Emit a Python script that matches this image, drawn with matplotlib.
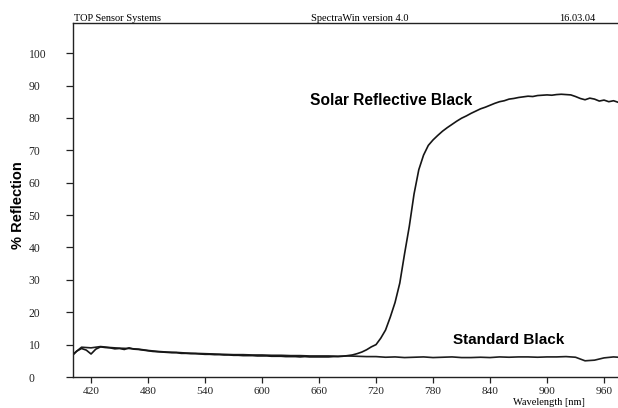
import numpy as np
import matplotlib
matplotlib.use("Agg")
import matplotlib.pyplot as plt

# wavelength grids [nm]
wl_std = list(range(400, 981, 10))
wl_solar = list(range(400, 981, 5))

# % reflection
standard_black = [6.8, 9.2, 9.0, 9.4, 9.1, 8.9, 8.8, 8.6, 8.2, 7.9,
                  7.7, 7.6, 7.4, 7.3, 7.2, 7.1, 7.0, 6.9, 6.9, 6.8,
                  6.8, 6.7, 6.7, 6.6, 6.6, 6.5, 6.5, 6.5, 6.4, 6.5,
                  6.4, 6.3, 6.3, 6.1, 6.2, 6.0, 6.1, 6.2, 6.0, 6.1,
                  6.2, 6.0, 6.0, 6.1, 6.0, 6.2, 6.1, 6.2, 6.2, 6.1,
                  6.2, 6.2, 6.3, 6.1, 5.0, 5.2, 5.9, 6.2, 6.0]

solar_black = [6.5, 8.0, 8.8, 8.3, 7.1, 8.6, 9.3, 9.1, 9.0, 8.7,
               8.8, 8.5, 9.0, 8.6, 8.5, 8.3, 8.1, 7.9, 7.8, 7.7,
               7.6, 7.5, 7.5, 7.3, 7.3, 7.2, 7.2, 7.1, 7.0, 7.0,
               6.9, 6.9, 6.8, 6.8, 6.7, 6.7, 6.6, 6.6, 6.6, 6.5,
               6.5, 6.5, 6.4, 6.4, 6.4, 6.3, 6.3, 6.3, 6.2, 6.3,
               6.2, 6.2, 6.2, 6.2, 6.2, 6.3, 6.3, 6.4, 6.6, 6.8,
               7.2, 7.7, 8.4, 9.3, 10.0, 12.0, 14.5, 18.5, 23.0, 29.0,
               38.0, 46.5, 56.5, 64.0, 68.5, 71.5, 73.2, 74.6, 75.9, 77.0,
               78.0, 79.0, 79.9, 80.6, 81.4, 82.1, 82.8, 83.3, 83.9, 84.5,
               85.0, 85.3, 85.8, 86.0, 86.3, 86.5, 86.7, 86.6, 86.9, 87.0,
               87.1, 87.0, 87.2, 87.3, 87.2, 87.1, 86.6, 86.0, 85.6, 86.1,
               85.8, 85.2, 85.5, 85.0, 85.3, 84.8, 84.6]

xticks = [420, 480, 540, 600, 660, 720, 780, 840, 900, 960]
yticks = [0, 10, 20, 30, 40, 50, 60, 70, 80, 90, 100]

serif = "Liberation Serif"
sans = "Liberation Sans"

fig = plt.figure(figsize=(6.18, 4.08), dpi=100)
ax = fig.add_axes([73 / 618, 31 / 408, 1 - 73 / 618 + 0.002, 354 / 408])

ax.plot(wl_std, standard_black, color="#1e1e1e", lw=1.2)
ax.plot(wl_solar, solar_black, color="#161616", lw=1.2)

ax.set_xlim(401, 976)
ax.set_ylim(0, 109.3)
ax.set_xticks(xticks)
ax.set_yticks(yticks)
ax.spines["right"].set_visible(False)
for s in ["left", "bottom", "top"]:
    ax.spines[s].set_linewidth(1.0)
    ax.spines[s].set_color("#222222")

ax.tick_params(axis="x", direction="out", length=4, width=0.9, pad=3,
               labelsize=8.2, colors="#222222")
ax.tick_params(axis="y", direction="out", length=5, width=0.9, pad=27,
               labelsize=8.4, colors="#222222")
for lab in ax.get_xticklabels() + ax.get_yticklabels():
    lab.set_family(serif)
for lab in ax.get_yticklabels():
    lab.set_horizontalalignment("left")

ax.set_ylabel("% Reflection", family=sans, fontweight="bold", fontsize=10.5)
ax.yaxis.set_label_coords(-0.088, 0.486)

ax.text(736, 85.5, "Solar Reflective Black", family=sans, fontweight="bold",
        fontsize=11.2, ha="center", va="center")
ax.text(860, 11.4, "Standard Black", family=sans, fontweight="bold",
        fontsize=11, ha="center", va="center")

# scan header and axis caption
fig.text(74 / 618, 1 - 21 / 408, "TOP Sensor Systems", family=serif,
         fontsize=7.5, ha="left", va="baseline")
fig.text(311 / 618, 1 - 21 / 408, "SpectraWin version 4.0", family=serif,
         fontsize=7.5, ha="left", va="baseline")
fig.text(595 / 618, 1 - 21 / 408, "16.03.04", family=serif,
         fontsize=7.5, ha="right", va="baseline")
fig.text(549 / 618, 1 - 407 / 408, "Wavelength [nm]", family=serif,
         fontsize=7.5, ha="center", va="bottom")

fig.savefig("out.png", dpi=100)
